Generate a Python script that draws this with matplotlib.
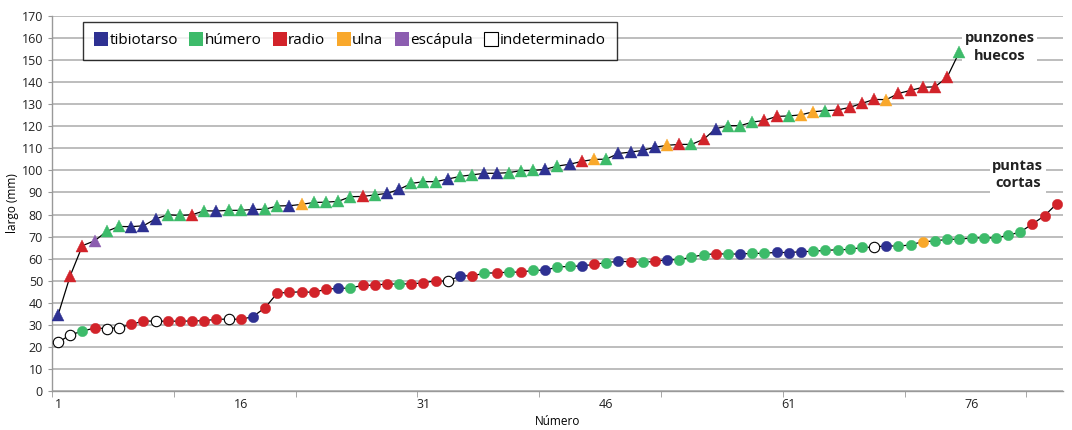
import matplotlib
matplotlib.use("Agg")
import matplotlib.pyplot as plt
from matplotlib.lines import Line2D
import numpy as np

plt.rcParams['font.family'] = ['Open Sans', 'DejaVu Sans']

# bone type codes: t=tibiotarso, h=húmero, r=radio, u=ulna, e=escápula, i=indeterminado
bone_names = ['tibiotarso', 'húmero', 'radio', 'ulna', 'escápula', 'indeterminado']
bone_codes = ['t', 'h', 'r', 'u', 'e', 'i']
bone_colors = ['#2E3192', '#3DBB6A', '#D2232A', '#F9A82B', '#8C5DB0', 'white']

# punzones huecos (triangles)
punzones_largo = [34.5, 52.3, 65.9, 68.1, 72.4, 74.6, 74.5, 74.9, 78.0, 79.9,
                  79.6, 79.9, 81.7, 81.6, 81.9, 81.9, 82.3, 82.4, 83.9, 84.0,
                  84.6, 85.5, 85.6, 86.0, 88.1, 88.2, 88.9, 89.6, 91.4, 94.1,
                  94.9, 94.9, 96.1, 97.3, 98.0, 98.7, 98.7, 99.0, 99.9, 100.0,
                  100.5, 102.0, 102.8, 104.1, 105.0, 105.1, 107.7, 108.3, 109.1, 110.5,
                  111.4, 111.8, 111.8, 114.1, 118.9, 120.3, 120.3, 121.9, 122.7, 124.5,
                  124.7, 125.2, 126.6, 127.1, 127.4, 128.6, 130.4, 132.2, 132.1, 134.9,
                  136.3, 137.7, 137.9, 142.3, 153.7]
punzones_hueso = ['t', 'r', 'r', 'e', 'h', 'h', 't', 't', 't', 'h',
                  'h', 'r', 'h', 't', 'h', 'h', 't', 'h', 'h', 't',
                  'u', 'h', 'h', 'h', 'h', 'r', 'h', 't', 't', 'h',
                  'h', 'h', 't', 'h', 'h', 't', 't', 'h', 'h', 'h',
                  't', 'h', 't', 'r', 'u', 'h', 't', 't', 't', 't',
                  'u', 'r', 'h', 'r', 't', 'h', 'h', 'h', 'r', 'r',
                  'h', 'u', 'u', 'h', 'r', 'r', 'r', 'r', 'u', 'r',
                  'r', 'r', 'r', 'r', 'h']

# puntas cortas (circles)
puntas_largo = [22.0, 25.5, 27.1, 28.6, 28.3, 28.7, 30.2, 31.7, 31.7, 31.6,
                31.7, 31.7, 31.9, 32.5, 32.6, 32.5, 33.7, 37.8, 44.4, 44.7,
                45.0, 44.7, 46.2, 46.5, 46.7, 47.9, 48.0, 48.5, 48.5, 48.6,
                49.0, 50.0, 49.7, 52.3, 52.1, 53.5, 53.5, 53.9, 53.9, 54.7,
                54.8, 56.2, 56.5, 56.7, 57.4, 58.2, 58.8, 58.6, 58.3, 58.8,
                59.5, 59.5, 60.7, 61.8, 62.2, 62.1, 62.1, 62.4, 62.4, 62.9,
                62.7, 63.2, 63.3, 63.8, 64.0, 64.2, 65.1, 65.2, 65.9, 65.6,
                66.3, 67.7, 68.0, 68.8, 68.8, 69.4, 69.4, 69.4, 70.6, 72.1,
                75.7, 79.5, 84.9]
puntas_hueso = ['i', 'i', 'h', 'r', 'i', 'i', 'r', 'r', 'i', 'r',
                'r', 'r', 'r', 'r', 'i', 'r', 't', 'r', 'r', 'r',
                'r', 'r', 'r', 't', 'h', 'r', 'r', 'r', 'h', 'r',
                'r', 'r', 'i', 't', 'r', 'h', 'r', 'h', 'r', 'h',
                't', 'h', 'h', 't', 'r', 'h', 't', 'r', 'h', 'r',
                't', 'h', 'h', 'h', 'r', 'h', 't', 'h', 'h', 't',
                't', 't', 'h', 'h', 'h', 'h', 'h', 'i', 't', 'h',
                'h', 'u', 'h', 'h', 'h', 'h', 'h', 'h', 'h', 'h',
                'r', 'r', 'r']

x_labels = [1, 16, 31, 46, 61, 76]

color_of = dict(zip(bone_codes, bone_colors))

fig = plt.figure(figsize=(10.72, 4.30), dpi=100)
ax = fig.add_axes([0.0485, 0.0907, 0.943, 0.872])

def draw_series(values, bones, marker, ms):
    x = np.arange(1, len(values) + 1)
    ax.plot(x, values, color='black', lw=0.9, zorder=3)
    for xi, v, b in zip(x, values, bones):
        ax.plot(xi, v, marker=marker, ms=ms, color=color_of[b],
                mec='black' if b == 'i' else color_of[b], mew=0.8 if b == 'i' else 0.3,
                ls='none', zorder=4)

draw_series(punzones_largo, punzones_hueso, '^', 8.5)
draw_series(puntas_largo, puntas_hueso, 'o', 7.5)

ax.set_xlim(0.5, 83.5)
ax.set_ylim(0, 170)
ax.set_yticks(np.arange(0, 171, 10))
ax.set_xticks(x_labels)
ax.set_xticks(np.arange(0.5, 84, 10), minor=True)
ax.tick_params(axis='x', which='major', length=0, labelsize=9, pad=5, colors='#222222')
ax.tick_params(axis='x', which='minor', length=4, color='#999999')
ax.tick_params(axis='y', length=3, color='#999999', labelsize=9, colors='#222222')
ax.tick_params(axis='y', color='#999999')
ax.grid(axis='y', color='#B8B8B8', lw=1.3, zorder=0)
ax.set_axisbelow(True)
for s in ['top', 'right']:
    ax.spines[s].set_visible(False)
for s in ['left', 'bottom']:
    ax.spines[s].set_color('#999999')
    ax.spines[s].set_linewidth(1.0)

ax.set_ylabel('largo (mm)', fontsize=8.5, labelpad=2)
ax.set_xlabel('Número', fontsize=8.5, labelpad=3)

handles = [Line2D([], [], marker='s', ls='none', ms=10, color=c,
                  mec='black' if c == 'white' else c, mew=0.8 if c == 'white' else 0)
           for c in bone_colors]
leg = ax.legend(handles, bone_names, loc='upper left', bbox_to_anchor=(0.031, 0.985),
                ncol=6, fontsize=11, frameon=True, fancybox=False,
                handlelength=0.8, handletextpad=0.15, columnspacing=0.8,
                borderpad=0.75, borderaxespad=0)
leg.get_frame().set_edgecolor('black')
leg.get_frame().set_linewidth(1.0)

ax.text(78.3, 156, 'punzones\nhuecos', fontsize=10.5, fontweight='bold', ha='center',
        va='center', linespacing=1.3, color='#222222',
        bbox=dict(facecolor='white', edgecolor='none', pad=2))
ax.text(79.8, 98, 'puntas\ncortas', fontsize=10.5, fontweight='bold', ha='center',
        va='center', linespacing=1.25, color='#222222',
        bbox=dict(facecolor='white', edgecolor='none', pad=2))

fig.savefig('out.png', dpi=100)
